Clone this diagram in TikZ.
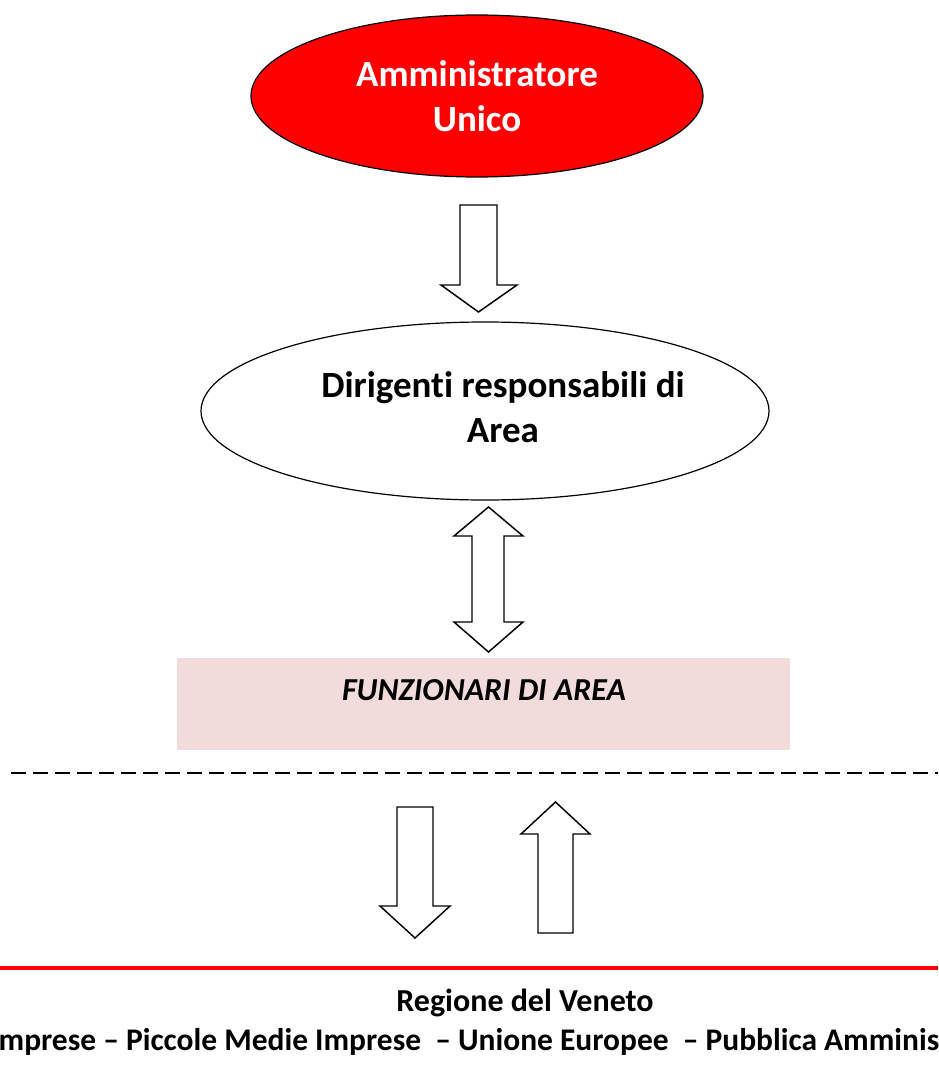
\documentclass[tikz,border=0pt]{standalone}
\usepackage{fontspec}
\setmainfont{Carlito}[Ligatures=NoCommon]
\usetikzlibrary{shapes.geometric}
\definecolor{areapink}{RGB}{242,220,219}

\begin{document}
\begin{tikzpicture}[x=0.75pt,y=0.75pt,yscale=-1,xscale=1]
\useasboundingbox (0,0) rectangle (938,1077);

%Shape: Ellipse [id:amministratore]
\node [ellipse, draw, line width=0.9pt, fill={rgb,255:red,255;green,0;blue,0}, text=white, minimum width=339pt, minimum height=121.5pt, inner sep=0pt, align=center, font=\bfseries\fontsize{27.75}{33.75}\selectfont] (amministratore) at (477,96) {Amministratore\\Unico};

%Shape: Ellipse [id:dirigenti]
\node [ellipse, draw, line width=0.9pt, fill=white, minimum width=426pt, minimum height=133.5pt, inner sep=0pt] (dirigenti) at (485,411) {};
% Text Node
\node [align=center, inner sep=0pt, font=\bfseries\fontsize{27.75}{33.75}\selectfont] (dirigentitxt) at (503,407) {Dirigenti responsabili di\\Area};

%Shape: Rectangle [id:funzionari]
\draw [draw opacity=0, fill=areapink] (177,658) rectangle (790,750);
% Text Node
\node [anchor=base, inner sep=0pt, font=\bfseries\itshape\fontsize{24}{29}\selectfont] (funzionari) at (484,700) {FUNZIONARI DI AREA};

%Shape: Down Arrow [id:freccia1]
\draw [line width=1.1pt, line join=miter] (460,205) -- (497,205) -- (497,285) -- (517,285) -- (478.5,312) -- (441,285) -- (460,285) -- cycle ;
%Shape: Up-Down Arrow [id:freccia2]
\draw [line width=1.1pt, line join=miter] (488.5,507) -- (523,536) -- (504,536) -- (504,622) -- (523,622) -- (488.5,652) -- (454,622) -- (472,622) -- (472,536) -- (454,536) -- cycle ;

%Straight Lines [id:tratteggio]
\draw [line width=1.5pt, dash pattern={on 11.25pt off 5.25pt}] (11,773) -- (938,773) ;

%Shape: Down Arrow [id:freccia3]
\draw [line width=1.1pt, line join=miter] (397,807) -- (433,807) -- (433,906) -- (450,906) -- (415,938) -- (380,906) -- (397,906) -- cycle ;
%Shape: Up Arrow [id:freccia4]
\draw [line width=1.1pt, line join=miter] (555.5,802) -- (590,834) -- (573,834) -- (573,933) -- (538,933) -- (538,834) -- (521,834) -- cycle ;

%Straight Lines [id:linearossa]
\draw [color={rgb,255:red,255;green,0;blue,0}, line width=3pt] (0,968) -- (938,968) ;

% Text Node
\node [anchor=base, inner sep=0pt, font=\bfseries\fontsize{24}{29}\selectfont] (regione) at (525,1011) {Regione del Veneto};
% Text Node
\node [anchor=base west, inner sep=0pt, font=\bfseries\fontsize{23.6}{29}\selectfont] (soggetti) at (-10,1050) {Imprese – Piccole Medie Imprese~ – Unione Europee~ – Pubblica Amministrazione};
\end{tikzpicture}
\end{document}
